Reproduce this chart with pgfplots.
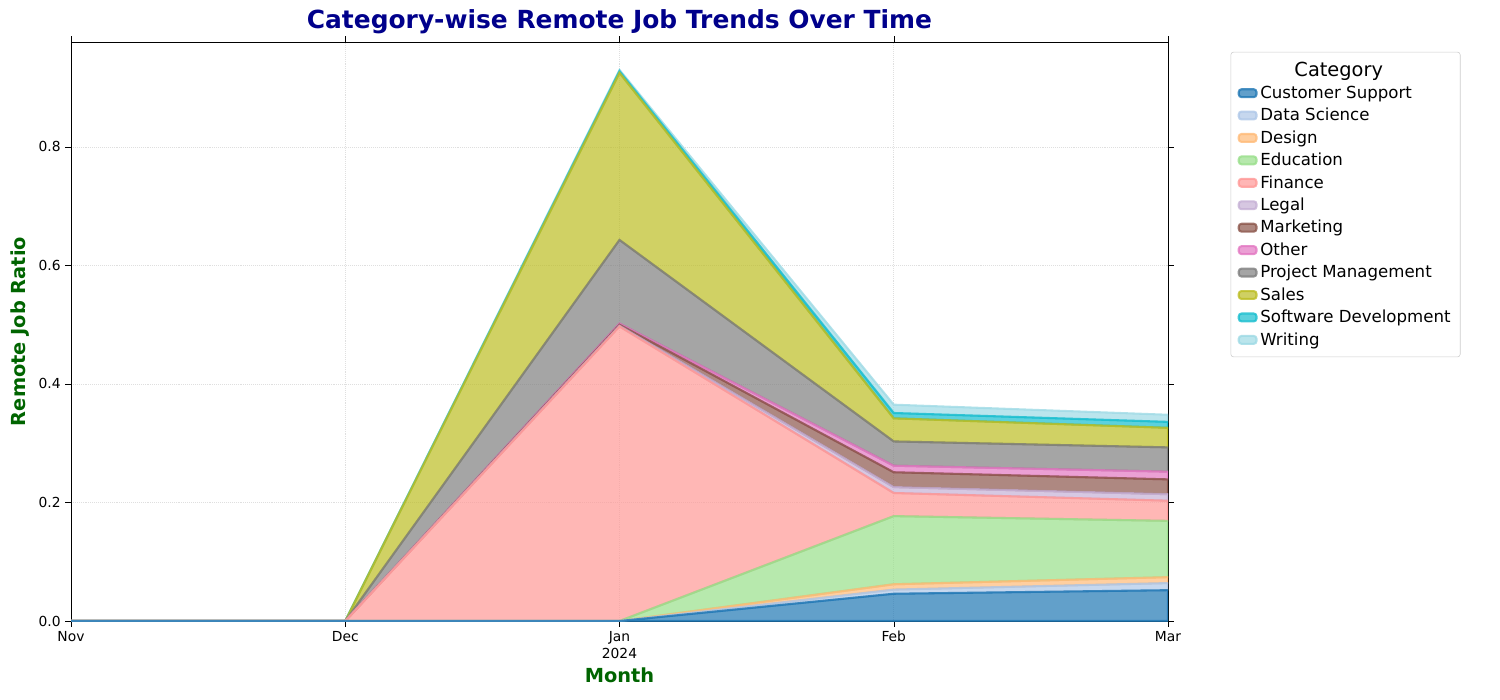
\documentclass[border=0pt]{standalone}
\usepackage{pgfplots}
\pgfplotsset{compat=1.18}
\usepackage{fontspec}
\setmainfont{DejaVu Sans}
\definecolor{c1}{HTML}{1F77B4}\definecolor{c2}{HTML}{AEC7E8}\definecolor{c3}{HTML}{FFBB78}
\definecolor{c4}{HTML}{98DF8A}\definecolor{c5}{HTML}{FF9896}\definecolor{c6}{HTML}{C5B0D5}
\definecolor{c7}{HTML}{8C564B}\definecolor{c8}{HTML}{E377C2}\definecolor{c9}{HTML}{7F7F7F}
\definecolor{c10}{HTML}{BCBD22}\definecolor{c11}{HTML}{17BECF}\definecolor{c12}{HTML}{9EDAE5}
\definecolor{navy}{HTML}{00008B}\definecolor{dgreen}{HTML}{006400}
\begin{document}
\begin{tikzpicture}
\begin{axis}[name=ax, scale only axis, width=10.97in, height=5.79in,
  stack plots=y, xmin=0, xmax=4, ymin=0, ymax=0.977,
  xtick={0,1,2,3,4}, xticklabels={Nov,Dec,Jan\\2024,Feb,Mar},
  xticklabel style={align=center, font=\fontsize{10}{12}\selectfont},
  ytick={0,0.2,0.4,0.6,0.8},
  yticklabel style={font=\fontsize{10}{12}\selectfont, /pgf/number format/fixed, /pgf/number format/precision=1, /pgf/number format/fixed zerofill},
  /pgf/number format/assume math mode=true,
  grid=major, grid style={densely dotted, gray!25},
  tick align=outside, tick style={black}, major tick length=4pt,
  title={\fontsize{18}{20}\selectfont\bfseries Category-wise Remote Job Trends Over Time}, title style={text=navy, yshift=-4pt},
  xlabel={\fontsize{14}{16}\selectfont\bfseries Month}, xlabel style={text=dgreen},
  ylabel={\fontsize{14}{16}\selectfont\bfseries Remote Job Ratio}, ylabel style={text=dgreen},
  legend style={at={(1.057,0.983)}, anchor=north west, font=\fontsize{12}{14}\selectfont, draw=gray!40, rounded corners=2pt, row sep=1.6pt, inner sep=5pt},
  legend cell align=left,
  legend image code/.code={\draw[#1, line width=1.5pt, fill opacity=0.7] (0cm,-0.1cm) rectangle (0.45cm,0.1cm);},
]
\addlegendimage{empty legend}\addlegendentry{\hspace{-1.1cm}\fontsize{14}{16}\selectfont\quad\quad\quad\quad Category}
\addplot[fill=c1, draw=c1, fill opacity=0.7, draw opacity=0.8, line width=1.5pt] coordinates {(0,0)(1,0)(2,0)(3,0.046)(4,0.052)} \closedcycle; \addlegendentry{Customer Support}
\addplot[fill=c2, draw=c2, fill opacity=0.7, draw opacity=0.8, line width=1.5pt] coordinates {(0,0)(1,0)(2,0)(3,0.007)(4,0.012)} \closedcycle; \addlegendentry{Data Science}
\addplot[fill=c3, draw=c3, fill opacity=0.7, draw opacity=0.8, line width=1.5pt] coordinates {(0,0)(1,0)(2,0)(3,0.009)(4,0.010)} \closedcycle; \addlegendentry{Design}
\addplot[fill=c4, draw=c4, fill opacity=0.7, draw opacity=0.8, line width=1.5pt] coordinates {(0,0)(1,0)(2,0)(3,0.115)(4,0.095)} \closedcycle; \addlegendentry{Education}
\addplot[fill=c5, draw=c5, fill opacity=0.7, draw opacity=0.8, line width=1.5pt] coordinates {(0,0)(1,0)(2,0.497)(3,0.039)(4,0.034)} \closedcycle; \addlegendentry{Finance}
\addplot[fill=c6, draw=c6, fill opacity=0.7, draw opacity=0.8, line width=1.5pt] coordinates {(0,0)(1,0)(2,0.001)(3,0.010)(4,0.011)} \closedcycle; \addlegendentry{Legal}
\addplot[fill=c7, draw=c7, fill opacity=0.7, draw opacity=0.8, line width=1.5pt] coordinates {(0,0)(1,0)(2,0.002)(3,0.025)(4,0.025)} \closedcycle; \addlegendentry{Marketing}
\addplot[fill=c8, draw=c8, fill opacity=0.7, draw opacity=0.8, line width=1.5pt] coordinates {(0,0)(1,0)(2,0.002)(3,0.011)(4,0.013)} \closedcycle; \addlegendentry{Other}
\addplot[fill=c9, draw=c9, fill opacity=0.7, draw opacity=0.8, line width=1.5pt] coordinates {(0,0)(1,0)(2,0.141)(3,0.041)(4,0.041)} \closedcycle; \addlegendentry{Project Management}
\addplot[fill=c10, draw=c10, fill opacity=0.7, draw opacity=0.8, line width=1.5pt] coordinates {(0,0)(1,0)(2,0.282)(3,0.039)(4,0.033)} \closedcycle; \addlegendentry{Sales}
\addplot[fill=c11, draw=c11, fill opacity=0.7, draw opacity=0.8, line width=1.5pt] coordinates {(0,0)(1,0)(2,0.003)(3,0.009)(4,0.010)} \closedcycle; \addlegendentry{Software Development}
\addplot[fill=c12, draw=c12, fill opacity=0.7, draw opacity=0.8, line width=1.5pt] coordinates {(0,0)(1,0)(2,0.002)(3,0.014)(4,0.012)} \closedcycle; \addlegendentry{Writing}
\end{axis}
\path[use as bounding box] ([shift={(-0.71in,-0.79in)}]ax.south west) rectangle ([shift={(-0.71in,-0.79in)}]ax.south west) ++(15in,7in);
\end{tikzpicture}
\end{document}
